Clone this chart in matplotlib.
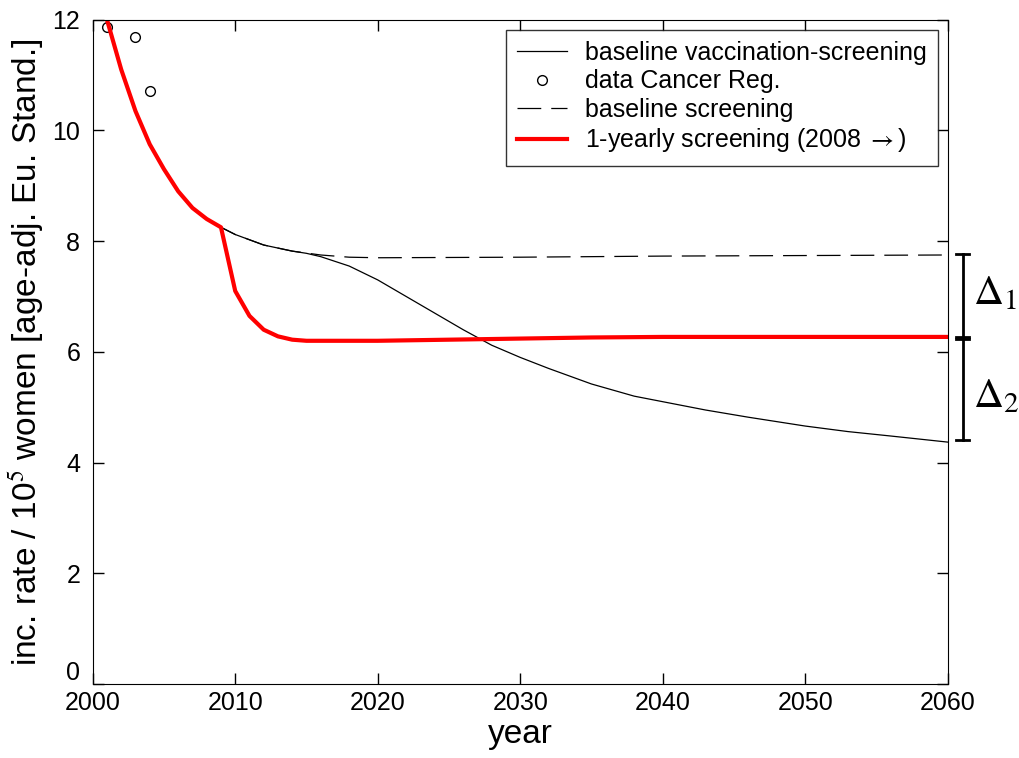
import numpy as np
import matplotlib.pyplot as plt
from matplotlib.transforms import ScaledTranslation

plt.rcParams['font.family'] = ['Liberation Sans', 'DejaVu Sans']
plt.rcParams['mathtext.fontset'] = 'stix'

# baseline vaccination-screening
years_vs = [2001, 2002, 2003, 2004, 2005, 2006, 2007, 2008, 2009, 2010, 2012, 2014, 2015,
            2016, 2018, 2020, 2022, 2024, 2026, 2028, 2030, 2032, 2035, 2038, 2040, 2043,
            2046, 2050, 2053, 2056, 2060]
rate_vs = [12.0, 11.1, 10.35, 9.75, 9.3, 8.9, 8.6, 8.4, 8.25, 8.12, 7.93, 7.82, 7.78,
           7.72, 7.55, 7.3, 7.0, 6.7, 6.4, 6.12, 5.9, 5.7, 5.42, 5.2, 5.1, 4.95,
           4.82, 4.66, 4.56, 4.48, 4.37]

# baseline screening
years_s = [2001, 2002, 2003, 2004, 2005, 2006, 2007, 2008, 2009, 2010, 2012, 2014, 2016,
           2018, 2020, 2030, 2040, 2050, 2060]
rate_s = [12.0, 11.1, 10.35, 9.75, 9.3, 8.9, 8.6, 8.4, 8.25, 8.12, 7.93, 7.82, 7.75,
          7.71, 7.7, 7.71, 7.73, 7.74, 7.75]

# 1-yearly screening from 2008
years_1y = [2001, 2002, 2003, 2004, 2005, 2006, 2007, 2008, 2009, 2010, 2011, 2012,
            2013, 2014, 2015, 2020, 2025, 2030, 2035, 2040, 2050, 2060]
rate_1y = [12.0, 11.1, 10.35, 9.75, 9.3, 8.9, 8.6, 8.4, 8.25, 7.1, 6.65, 6.4,
           6.28, 6.22, 6.2, 6.2, 6.22, 6.24, 6.26, 6.27, 6.27, 6.27]

# cancer registry data
years_data = [2001, 2003, 2004]
rate_data = [11.86, 11.68, 10.72]

fig = plt.figure(figsize=(10.19, 7.58), dpi=100)
ax = fig.add_axes([0.091, 0.0976, 0.839, 0.8764])

ax.plot(years_vs, rate_vs, color='black', linewidth=0.9, label='baseline vaccination-screening')
ax.plot(years_data, rate_data, linestyle='none', marker='o', markersize=7,
        markerfacecolor='white', markeredgecolor='black', markeredgewidth=1,
        label='data Cancer Reg.')
ax.plot(years_s, rate_s, color='black', linewidth=0.9, dashes=(19, 8), label='baseline screening')
ax.plot(years_1y, rate_1y, color='red', linewidth=3, label=r'1-yearly screening (2008 $\rightarrow$)')

ax.set_xlim(2000, 2060)
ax.set_ylim(0, 12)
ax.set_xticks(range(2000, 2061, 10))
ax.set_yticks(range(0, 13, 2))
ax.tick_params(direction='in', length=8, width=1, labelsize=18, top=True, right=True)
ax.tick_params(axis='y', pad=9)
ax.tick_params(axis='x', pad=5)
ax.set_xlabel('year', fontsize=24, labelpad=3)
ax.set_ylabel('inc. rate / 10$^5$ women [age-adj. Eu. Stand.]', fontsize=24, labelpad=4)

# lift the "0" label above the x tick labels
zero_lab = ax.get_yticklabels()[0]
zero_lab.set_transform(zero_lab.get_transform() + ScaledTranslation(0, 10 / 72, fig.dpi_scale_trans))

leg = ax.legend(loc='upper right', fontsize=18, frameon=True, fancybox=False,
                edgecolor='black', borderaxespad=0.4, handlelength=2.0,
                handletextpad=0.7, labelspacing=0.18, borderpad=0.45)
leg.get_frame().set_linewidth(1)

# delta brackets
bx = 2061.05
cw = 0.48
for lo, hi in [(6.27, 7.76), (4.4, 6.23)]:
    ax.plot([bx, bx], [lo, hi], color='black', linewidth=2, clip_on=False)
    for v in (lo, hi):
        ax.plot([bx - cw, bx + cw], [v, v], color='black', linewidth=2, clip_on=False)
ax.text(2061.8, 7.05, r'$\Delta_1$', fontsize=30, va='center', ha='left')
ax.text(2061.8, 5.2, r'$\Delta_2$', fontsize=30, va='center', ha='left')

fig.savefig('out.png', dpi=100)
